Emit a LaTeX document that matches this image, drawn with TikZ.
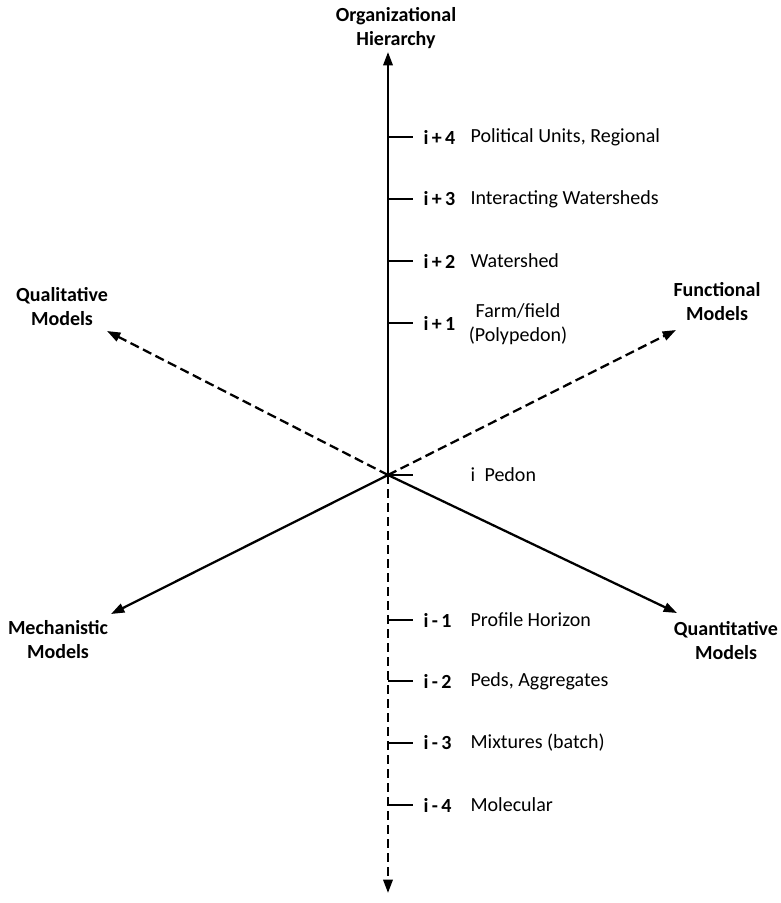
\documentclass[tikz,border=0pt]{standalone}
\usepackage{fontspec}
\setmainfont{Carlito}
\usetikzlibrary{arrows.meta}

\tikzset{every picture/.style={line width=1.7pt}}
\tikzset{
  axis/.style={-{Triangle[length=10pt,width=7pt]}},
  dashaxis/.style={axis, dash pattern=on 7pt off 3.5pt},
  lvl/.style={font=\fontsize{15}{18}\selectfont\bfseries, anchor=west},
  lbl/.style={font=\fontsize{15}{18}\selectfont, anchor=west},
  ttl/.style={font=\fontsize{15}{18}\selectfont\bfseries, align=center},
}

\begin{document}
\begin{tikzpicture}[x=0.75pt,y=0.75pt,yscale=-1,xscale=1]
\useasboundingbox (0,0) rectangle (781,903);

%Axis ends
\coordinate (o) at (388,475);
\coordinate (up) at (388,52);
\coordinate (down) at (388,893);
\coordinate (qual) at (107,331);
\coordinate (func) at (676,330);
\coordinate (mech) at (111,614);
\coordinate (quant) at (677,613);

%Straight Lines
\draw [axis] (o) -- (up);
\draw [dashaxis] (o) -- (down);
\draw [dashaxis] (o) -- (qual);
\draw [dashaxis] (o) -- (func);
\draw [axis] (o) -- (mech);
\draw [axis] (o) -- (quant);

%Ticks
\foreach \y/\n in {137/p4,199/p3,261/p2,323/p1,475/z,620/m1,681/m2,743/m3,805/m4}{
  \coordinate (t\n) at (388,\y);
  \coordinate (e\n) at (413,\y);
  \draw (t\n) -- (e\n);
}

% Text Node
\node (oh) [ttl] at (396,28) {Organizational\\Hierarchy};
% Text Node
\node (qm) [ttl] at (62,307) {Qualitative\\Models};
% Text Node
\node (fm) [ttl] at (717,302) {Functional\\Models};
% Text Node
\node (mm) [ttl] at (58,640) {Mechanistic\\Models};
% Text Node
\node (nm) [ttl] at (726,641) {Quantitative\\Models};

% Level labels
\node (np4) [lvl] at (418,137) {i\,+\,4};
\node (dp4) [lbl] at (465,137) {Political Units, Regional};
\node (np3) [lvl] at (418,199) {i\,+\,3};
\node (dp3) [lbl] at (465,199) {Interacting Watersheds};
\node (np2) [lvl] at (418,261) {i\,+\,2};
\node (dp2) [lbl] at (465,261) {Watershed};
\node (np1) [lvl] at (418,323) {i\,+\,1};
\node (dp1) [lbl, anchor=center, align=center] at (518,324) {Farm/field\\(Polypedon)};
\node (nz) [lbl] at (465,475) {i};
\node (dz) [lbl] at (479,475) {Pedon};
\node (nm1) [lvl] at (418,620) {i\,-\,1};
\node (dm1) [lbl] at (465,620) {Profile Horizon};
\node (nm2) [lvl] at (418,681) {i\,-\,2};
\node (dm2) [lbl] at (465,681) {Peds, Aggregates};
\node (nm3) [lvl] at (418,743) {i\,-\,3};
\node (dm3) [lbl] at (465,743) {Mixtures (batch)};
\node (nm4) [lvl] at (418,805) {i\,-\,4};
\node (dm4) [lbl] at (465,805) {Molecular};

\end{tikzpicture}
\end{document}
